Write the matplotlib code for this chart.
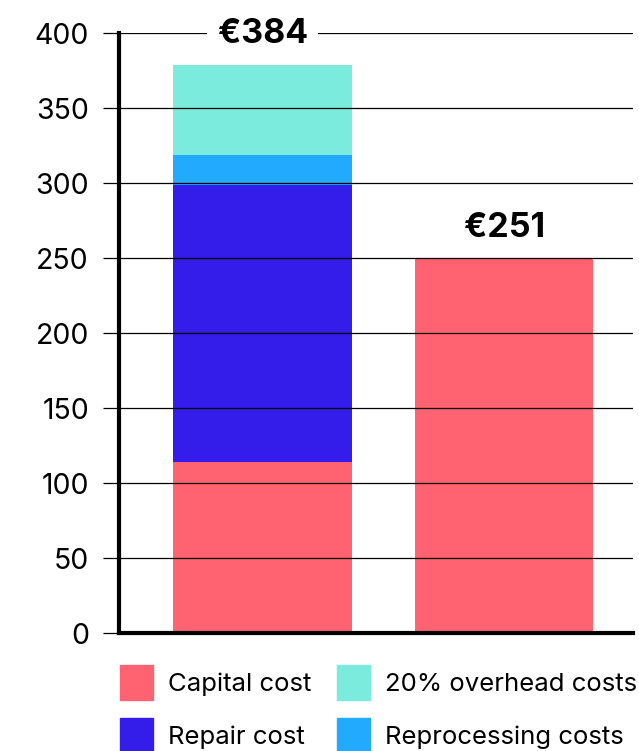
import matplotlib.pyplot as plt
from matplotlib.patches import Patch

# ---------- 数据 ----------
bars        = [0, 1]
capital     = [114, 250]
repair      = [185, 0]
reprocess   = [20, 0]
overhead    = [60, 0]
totals_txt  = ["€384", "€251"]
yticks      = [0, 50, 100, 150, 200, 250, 300, 350, 400]

# ---------- 颜色 ----------
c_capital   = "#FF6372"
c_repair    = "#341DEA"
c_reprocess = "#22AAFF"
c_overhead  = "#7AEBDC"

plt.rcParams['font.family'] = ['Inter', 'DejaVu Sans']

fig = plt.figure(figsize=(6.39, 7.51), dpi=100)
ax = fig.add_axes([0.186, 0.157, 0.805, 0.7987])

# ---- 堆叠柱 ----
w = 0.74
bottom = [0, 0]
for vals, col in [(capital, c_capital), (repair, c_repair),
                  (reprocess, c_reprocess), (overhead, c_overhead)]:
    ax.bar(bars, vals, width=w, bottom=bottom, color=col, zorder=1,
           linewidth=0)
    bottom = [b + v for b, v in zip(bottom, vals)]

# ---- 总额标签 ----
for x, top, txt in zip(bars, bottom, totals_txt):
    ax.annotate(txt, xy=(x, top), xytext=(0, 22), textcoords='offset points',
                ha='center', va='center', fontsize=24.5, fontweight='bold',
                annotation_clip=False, zorder=5,
                bbox=dict(boxstyle='square,pad=0.3', fc='white', ec='none'))

# ---- 坐标轴 ----
ax.set_xlim(-0.596, 1.535)
ax.set_ylim(0, 400)
ax.set_yticks(yticks)
ax.set_xticks([])
ax.yaxis.grid(True, color='black', linewidth=0.9)
ax.set_axisbelow(False)
ax.tick_params(axis='y', direction='out', length=11.5, width=0.9,
               pad=10, labelsize=20.5)
for s in ['top', 'right']:
    ax.spines[s].set_visible(False)
for s in ['left', 'bottom']:
    ax.spines[s].set_linewidth(3)
    ax.spines[s].set_zorder(4)

# ---- 图例 ----
handles = [Patch(color=c_capital), Patch(color=c_repair),
           Patch(color=c_overhead), Patch(color=c_reprocess)]
labels = ["Capital cost", "Repair cost", "20% overhead costs",
          "Reprocessing costs"]
fig.legend(handles, labels, ncol=2, loc='upper left',
           bbox_to_anchor=(120 / 639, 1 - 665 / 751), frameon=False,
           fontsize=18.5, borderpad=0, borderaxespad=0,
           handlelength=1.3, handleheight=1.72, handletextpad=0.58,
           columnspacing=0.97, labelspacing=0.7)

fig.savefig("out.png", dpi=100)
